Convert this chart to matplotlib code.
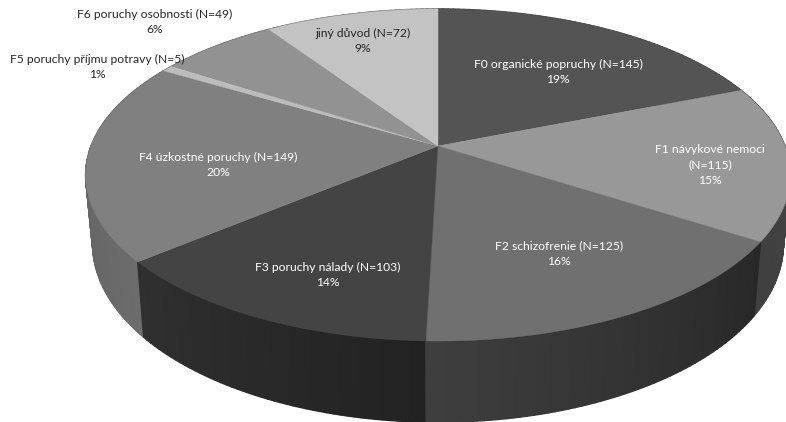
#!/usr/bin/env python
"""3D look pie chart of referral diagnoses, projected by hand onto a pixel-sized axes."""
import numpy as np
import matplotlib

matplotlib.use("Agg")
import matplotlib.pyplot as plt

plt.rcParams["font.family"] = ["Lato", "DejaVu Sans"]

# slices, clockwise from 12 o'clock
names = [
    "F0 organické popruchy",
    "F1 návykové nemoci",
    "F2 schizofrenie",
    "F3 poruchy nálady",
    "F4 úzkostné poruchy",
    "F5 poruchy příjmu potravy",
    "F6 poruchy osobnosti",
    "jiný důvod",
]
counts = [145, 115, 125, 103, 149, 5, 49, 72]
percents = [19, 15, 16, 14, 20, 1, 6, 9]

top_colors = ["#545454", "#989898", "#707070", "#444444",
              "#808080", "#bcbcbc", "#929292", "#c3c3c3"]
# side wall grey at the start and the end of each slice
side_from = [0x44, 0x44, 0x28, 0x22, 0x6c, 0x5c, 0x5c, 0x5c]
side_to = [0x44, 0x40, 0x3e, 0x30, 0x5a, 0x5c, 0x5c, 0x5c]
text_colors = ["white", "white", "white", "white", "white", "#262626", "#262626", "#262626"]

# label centre in pixels, line break in F1 as in the original
label_xy = [(558, 72), (710, 165), (559, 254), (328, 275),
            (218, 165), (97, 67), (155, 22), (363, 41)]

CX, CY = 438, 146
SCALE_X, SCALE_Y = 347, 161
PERSP = 0.1746
DEPTH = 67


def project(theta):
    """Top rim point and bottom rim point for clockwise angle theta (radians)."""
    u, v = np.sin(theta), np.cos(theta)
    w = 1 + PERSP * v
    x = CX + SCALE_X * u / w
    y = CY - SCALE_Y * v / w
    xb = CX + (x - CX) * 0.98
    yb = y + DEPTH / w
    return x, y, xb, yb


def grey(level):
    level = int(round(level))
    return f"#{level:02x}{level:02x}{level:02x}"


fig = plt.figure(figsize=(7.86, 4.22), dpi=100)
ax = fig.add_axes([0, 0, 1, 1])
ax.set_xlim(0, 786)
ax.set_ylim(422, 0)
ax.axis("off")

total = sum(counts)
edges = np.concatenate([[0], np.cumsum(counts)]) / total * 2 * np.pi

# side wall: strips sorted back to front, drawn with a thick same-colour edge to hide seams
strips = []
for i in range(len(counts)):
    n = max(2, int((edges[i + 1] - edges[i]) / np.radians(1)))
    t = np.linspace(edges[i], edges[i + 1], n + 1)
    for j in range(n):
        mid = (t[j] + t[j + 1]) / 2
        frac = j / max(n - 1, 1)
        strips.append((np.cos(mid), t[j], t[j + 1], side_from[i] + (side_to[i] - side_from[i]) * frac))
strips.sort(key=lambda s: -s[0])
for _, t0, t1, level in strips:
    x0, y0, xb0, yb0 = project(t0)
    x1, y1, xb1, yb1 = project(t1)
    c = grey(level)
    ax.fill([x0, x1, xb1, xb0], [y0, y1, yb1, yb0], facecolor=c, edgecolor=c,
            lw=1.0, joinstyle="round", zorder=2)

# top face
for i in range(len(counts)):
    t = np.linspace(edges[i], edges[i + 1], 120)
    x, y, _, _ = project(t)
    ax.fill(np.r_[CX, x], np.r_[CY, y], color=top_colors[i], lw=0.3, zorder=3)

# labels
for i, name in enumerate(names):
    if name.startswith("F1"):
        txt = f"{name}\n(N={counts[i]})\n{percents[i]}%"
    else:
        txt = f"{name} (N={counts[i]})\n{percents[i]}%"
    ax.text(label_xy[i][0], label_xy[i][1], txt, color=text_colors[i], fontsize=8.75,
            ha="center", va="center", linespacing=1.5, zorder=5)

fig.savefig("out.png", dpi=100)
